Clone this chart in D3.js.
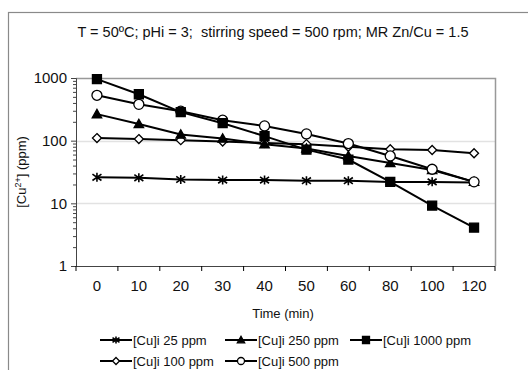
<!DOCTYPE html>
<html>
<head>
<meta charset="utf-8">
<script src="https://cdn.jsdelivr.net/npm/d3@7"></script>
<style>
  body { margin: 0; background: #fff; }
  text { font-family: "Liberation Sans", Arial, sans-serif; fill: #111; }
</style>
</head>
<body>
<div id="chart"></div>
<script>
// sampling times (min), shown as equally spaced categories
var times = [0, 10, 20, 30, 40, 50, 60, 80, 100, 120];

// [Cu2+] (ppm) for each initial copper concentration
var cu25   = [26, 25.5, 24, 23.5, 23.5, 23, 23, 22, 22, 21.5];
var cu100  = [110, 106, 102, 97, 92, 88, 80, 73, 71, 63];
var cu250  = [265, 185, 125, 108, 88, 75, 57, 44, 34, 22];
var cu500  = [530, 380, 295, 212, 172, 128, 90, 57, 35, 22];
var cu1000 = [960, 550, 285, 190, 118, 72, 50, 22, 9.2, 4.1];

var seriesNames = ["[Cu]i 25 ppm", "[Cu]i 100 ppm", "[Cu]i 250 ppm", "[Cu]i 500 ppm", "[Cu]i 1000 ppm"];
var seriesMarks = ["star", "diamond", "triangle", "circle", "square"];
var seriesValues = [cu25, cu100, cu250, cu500, cu1000];

var yTicks = [1, 10, 100, 1000];
var title = "T = 50\u00baC; pHi = 3;\u00a0 stirring speed = 500 rpm; MR Zn/Cu = 1.5";

var W = 528, H = 370;
var svg = d3.select("#chart").append("svg")
	.attr("width", W)
	.attr("height", H);

svg.append("rect").attr("width", W).attr("height", H).attr("fill", "#fff");

// outer chart frame (runs off right / bottom edge)
svg.append("rect")
	.attr("x", 8.5).attr("y", 12.5)
	.attr("width", 600).attr("height", 500)
	.attr("fill", "none").attr("stroke", "#8a8a8a").attr("stroke-width", 1.2);

var plot = { left: 76, right: 495, top: 78, bottom: 266 };

var x = d3.scaleBand().domain(times).range([plot.left, plot.right]);
var y = d3.scaleLog().domain([1, 1000]).range([plot.bottom, plot.top]);

// gridlines
svg.append("g").selectAll("line")
	.data([10, 100])
	.join("line")
	.attr("x1", plot.left).attr("x2", plot.right)
	.attr("y1", function (d) { return Math.round(y(d)) + 0.5; })
	.attr("y2", function (d) { return Math.round(y(d)) + 0.5; })
	.attr("stroke", "#e2e2e2").attr("stroke-width", 1.5);

// plot border top + right
svg.append("path")
	.attr("d", "M" + plot.left + "," + (plot.top + 0.5) + "H" + (plot.right + 0.5) + "V" + plot.bottom)
	.attr("fill", "none").attr("stroke", "#999").attr("stroke-width", 1.5);

// y axis
var yAxis = svg.append("g")
	.attr("transform", "translate(" + plot.left + ",0)")
	.call(d3.axisLeft(y).tickValues(yTicks).tickFormat(d3.format("d")).tickSize(5).tickPadding(4));
yAxis.selectAll("text").style("font-size", "15px");

var minor = [];
[1, 10, 100].forEach(function (d) {
	for (var k = 2; k < 10; k++) minor.push(d * k);
});
svg.append("g")
	.attr("transform", "translate(" + plot.left + ",0)")
	.call(d3.axisLeft(y).tickValues(minor).tickFormat("").tickSize(3))
	.call(function (g) { g.select(".domain").remove(); });

// x axis: labels at category centres, tick marks at category edges
var xAxis = svg.append("g")
	.attr("transform", "translate(0," + plot.bottom + ")")
	.call(d3.axisBottom(x).tickSize(0).tickPadding(14));
xAxis.selectAll("text").style("font-size", "15px");
xAxis.select(".domain").attr("d", "M" + plot.left + ",0.5H" + plot.right);

var edges = times.map(function (t) { return x(t); }).concat([plot.right]);
svg.append("g").selectAll("line")
	.data(edges)
	.join("line")
	.attr("x1", function (d) { return d; }).attr("x2", function (d) { return d; })
	.attr("y1", plot.bottom).attr("y2", plot.bottom + 5)
	.attr("stroke", "#000");

svg.selectAll(".domain, .tick line").attr("stroke", "#444");

// titles
svg.append("text")
	.attr("x", 273).attr("y", 37)
	.attr("text-anchor", "middle")
	.style("font-size", "14.5px")
	.text(title);

svg.append("text")
	.attr("x", 283).attr("y", 318)
	.attr("text-anchor", "middle")
	.style("font-size", "13px")
	.text("Time (min)");

var yTitle = svg.append("text")
	.attr("transform", "translate(26,172) rotate(-90)")
	.attr("text-anchor", "middle")
	.style("font-size", "13px");
yTitle.append("tspan").text("[Cu");
yTitle.append("tspan").attr("baseline-shift", "super").style("font-size", "9px").text("2+");
yTitle.append("tspan").text("] (ppm)");

// marker shapes
function markPath(kind, s) {
	var r = s / 2;
	if (kind == "star") {
		return "M0," + (-r) + "V" + r +
			"M" + (-r) + "," + (-r * 0.7) + "L" + r + "," + (r * 0.7) +
			"M" + (-r) + "," + (r * 0.7) + "L" + r + "," + (-r * 0.7);
	}
	if (kind == "diamond") {
		return "M0," + (-r) + "L" + r + ",0L0," + r + "L" + (-r) + ",0Z";
	}
	if (kind == "triangle") {
		return "M0," + (-r * 1.05) + "L" + (r * 1.05) + "," + (r * 0.8) + "L" + (-r * 1.05) + "," + (r * 0.8) + "Z";
	}
	if (kind == "square") {
		return "M" + (-r) + "," + (-r) + "H" + r + "V" + r + "H" + (-r) + "Z";
	}
	return d3.symbol(d3.symbolCircle, Math.PI * r * r)();
}
function markFill(kind) {
	return (kind == "diamond" || kind == "circle") ? "#fff" : "#000";
}
function drawMark(sel, kind, s) {
	sel.append("path")
		.attr("d", markPath(kind, s))
		.attr("fill", kind == "star" ? "none" : markFill(kind))
		.attr("stroke", "#000")
		.attr("stroke-width", kind == "star" ? 1.6 : 1.3);
}

var line = d3.line()
	.x(function (d, i) { return x(times[i]) + x.bandwidth() / 2; })
	.y(function (d) { return y(d); });

seriesValues.forEach(function (vals, si) {
	var g = svg.append("g");
	g.append("path")
		.datum(vals)
		.attr("d", line)
		.attr("fill", "none")
		.attr("stroke", "#000")
		.attr("stroke-width", 2);
	vals.forEach(function (v, i) {
		var m = g.append("g")
			.attr("transform", "translate(" + (x(times[i]) + x.bandwidth() / 2) + "," + y(v) + ")");
		drawMark(m, seriesMarks[si], seriesMarks[si] == "circle" ? 10 : 9);
	});
});

// legend: filled column by column, two rows
var legend = svg.append("g");
seriesNames.forEach(function (name, si) {
	var col = Math.floor(si / 2), row = si % 2;
	var lx = 100 + col * 125, ly = 340 + row * 21;
	var item = legend.append("g").attr("transform", "translate(" + lx + "," + ly + ")");
	item.append("line")
		.attr("x1", 0).attr("x2", 32)
		.attr("stroke", "#000").attr("stroke-width", 2);
	var m = item.append("g").attr("transform", "translate(16,0)");
	drawMark(m, seriesMarks[si], 7);
	item.append("text")
		.attr("x", 33).attr("y", 5)
		.style("font-size", "13px")
		.text(name);
});
</script>
</body>
</html>
